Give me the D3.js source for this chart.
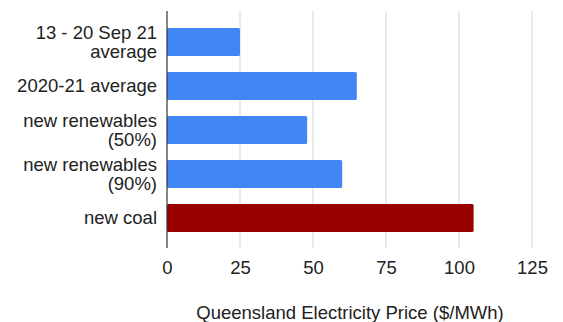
<!DOCTYPE html>
<html>
<head>
<meta charset="utf-8">
<script src="https://d3js.org/d3.v7.min.js"></script>
<style>
  html, body { margin: 0; padding: 0; background: #fff; }
  text { font-family: "Liberation Sans", Arial, sans-serif; fill: #222; }
</style>
</head>
<body>
<svg id="chart" width="563" height="322"></svg>
<script>
// Queensland electricity price comparison
const categories = [
  ["13 - 20 Sep 21", "average"],
  ["2020-21 average"],
  ["new renewables", "(50%)"],
  ["new renewables", "(90%)"],
  ["new coal"]
];
const prices = [25, 65, 48, 60, 105];
const barColors = ["#4285f4", "#4285f4", "#4285f4", "#4285f4", "#990000"];
const xTicks = [0, 25, 50, 75, 100, 125];
const xTitle = "Queensland Electricity Price ($/MWh)";

const svg = d3.select("#chart");
const fontSize = 18.5;

const x = d3.scaleLinear().domain([0, 125]).range([167, 532]);
const y = d3.scaleBand().domain(d3.range(categories.length)).range([20, 240]).paddingInner(0.36).paddingOuter(0.18);

// gridlines
svg.append("g")
  .selectAll("line")
  .data(xTicks.filter(d => d !== 0))
  .join("line")
  .attr("x1", d => x(d)).attr("x2", d => x(d))
  .attr("y1", 11).attr("y2", 248)
  .attr("stroke", "#dcdcdc").attr("stroke-width", 1.2);

// bars
svg.append("g")
  .selectAll("rect")
  .data(prices)
  .join("rect")
  .attr("x", x(0))
  .attr("y", (d, i) => y(i))
  .attr("width", d => x(d) - x(0))
  .attr("height", y.bandwidth())
  .attr("rx", 1.5)
  .attr("fill", (d, i) => barColors[i]);

// baseline at zero
svg.append("line")
  .attr("x1", x(0)).attr("x2", x(0))
  .attr("y1", 11).attr("y2", 248)
  .attr("stroke", "#333").attr("stroke-width", 1.2);

// x axis tick labels
const xAxis = d3.axisBottom(x).tickValues(xTicks).tickSize(0).tickPadding(0);
const gx = svg.append("g").attr("transform", "translate(0,274)").call(xAxis);
gx.select(".domain").remove();
gx.selectAll("text")
  .attr("dy", 0)
  .style("font-size", fontSize + "px")
  .style("font-family", "'Liberation Sans', Arial, sans-serif")
  .attr("fill", "#222");

// category labels
const lineH = 18.5;
const labels = svg.append("g")
  .selectAll("text")
  .data(categories)
  .join("text")
  .attr("text-anchor", "end")
  .attr("x", 157)
  .style("font-size", fontSize + "px");
labels.each(function(lines, i) {
  const cy = y(i) + y.bandwidth() / 2;
  const top = cy - (lines.length - 1) * lineH / 2;
  d3.select(this).selectAll("tspan")
    .data(lines)
    .join("tspan")
    .attr("x", 157)
    .attr("y", (d, j) => top + j * lineH)
    .attr("dy", "0.35em")
    .text(d => d);
});

// axis title
svg.append("text")
  .attr("x", (195 + 505) / 2)
  .attr("y", 313)
  .attr("dy", "0.35em")
  .attr("text-anchor", "middle")
  .style("font-size", fontSize + "px")
  .text(xTitle);
</script>
</body>
</html>
